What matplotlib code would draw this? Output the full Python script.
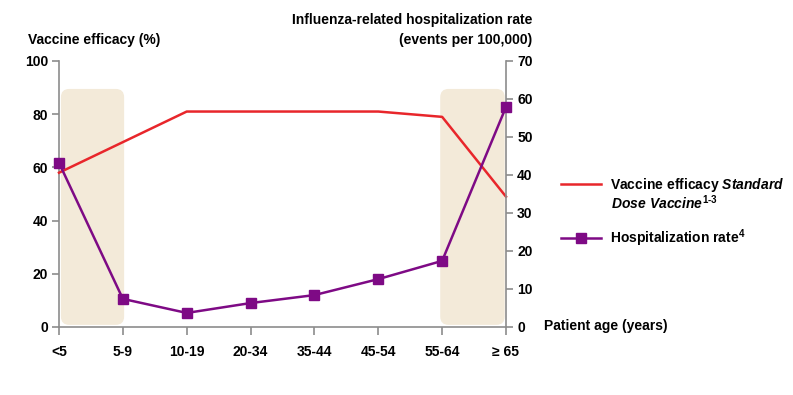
import numpy as np
import matplotlib.pyplot as plt
from matplotlib.patches import FancyBboxPatch

plt.rcParams['font.family'] = ['Liberation Sans', 'DejaVu Sans']
plt.rcParams['font.weight'] = 'bold'
plt.rcParams['mathtext.fontset'] = 'custom'
plt.rcParams['mathtext.rm'] = 'Liberation Sans:bold'
plt.rcParams['mathtext.it'] = 'Liberation Sans:italic:bold'
plt.rcParams['mathtext.bf'] = 'Liberation Sans:bold'

# data
age_groups = ['<5', '5-9', '10-19', '20-34', '35-44', '45-54', '55-64', '≥ 65']
efficacy = [58, 69.5, 81, 81, 81, 81, 79, 49]
hosp_rate = [43.2, 7.4, 3.7, 6.3, 8.4, 12.6, 17.4, 57.9]

red = '#E8262B'
purple = '#7E0A85'
grey = '#8C8C8C'
beige = '#F3EAD9'

fig = plt.figure(figsize=(7.93, 3.95), dpi=100)
ax = fig.add_axes([59 / 793, 1 - 327 / 395, 447 / 793, 266 / 395])
ax2 = ax.twinx()

x = np.arange(len(age_groups))
ax.set_xlim(0, len(age_groups) - 1)
ax.set_ylim(0, 100)
ax2.set_ylim(0, 70)

# shaded areas for youngest and oldest groups
for x0, x1 in [(0.03, 1.02), (5.97, 6.98)]:
    box = FancyBboxPatch((x0, 0.8), x1 - x0, 88.7,
                         boxstyle='round,pad=0,rounding_size=0.13',
                         mutation_aspect=24, fc=beige, ec='none', zorder=0)
    ax.add_patch(box)

l1, = ax.plot(x, efficacy, color=red, lw=1.8, zorder=3, clip_on=False)
l2, = ax2.plot(x, hosp_rate, color=purple, lw=1.8, marker='s', ms=6.5,
               zorder=3, clip_on=False)

for a in (ax, ax2):
    for s in a.spines.values():
        s.set_color(grey)
        s.set_linewidth(1.2)
    a.spines['top'].set_visible(False)
ax.spines['right'].set_visible(False)
ax2.spines['left'].set_visible(False)
ax2.spines['bottom'].set_visible(False)

ax.set_yticks(np.arange(0, 101, 20))
ax2.set_yticks(np.arange(0, 71, 10))
ax.set_xticks(x)
ax.set_xticklabels(age_groups)
ax.tick_params(axis='y', length=5, width=1.2, color=grey, labelsize=10, pad=3)
ax2.tick_params(axis='y', length=5, width=1.2, color=grey, labelsize=10, pad=3)
ax.tick_params(axis='x', length=6, width=1.2, color=grey, labelsize=10, pad=7)

fig.text(28 / 793, 1 - 40 / 395, 'Vaccine efficacy (%)', fontsize=10,
         fontweight='bold', va='center', ha='left')
fig.text(532 / 793, 1 - 30 / 395,
         'Influenza-related hospitalization rate\n(events per 100,000)',
         fontsize=10, fontweight='bold', va='center', ha='right',
         multialignment='right', linespacing=1.5)
fig.text(544 / 793, 1 - 326 / 395, 'Patient age (years)', fontsize=10,
         fontweight='bold', va='center', ha='left')

labels = [r'Vaccine efficacy $\mathit{Standard}$',
          r'Hospitalization rate$^{\text{4}}$']
leg = fig.legend([l1, l2], labels, loc='upper left',
                 bbox_to_anchor=(561 / 793, 1 - 176 / 395), frameon=False,
                 fontsize=10, handlelength=2.9, handletextpad=0.6,
                 labelspacing=2.4, borderaxespad=0, borderpad=0,
                 markerscale=1.2)
# second line of the first legend label
fig.text(611 / 793, 1 - 203 / 395, r'$\mathit{Dose\ Vaccine}^{\text{1-3}}$',
         fontsize=10, va='center', ha='left')

fig.savefig('out.png', dpi=100)
